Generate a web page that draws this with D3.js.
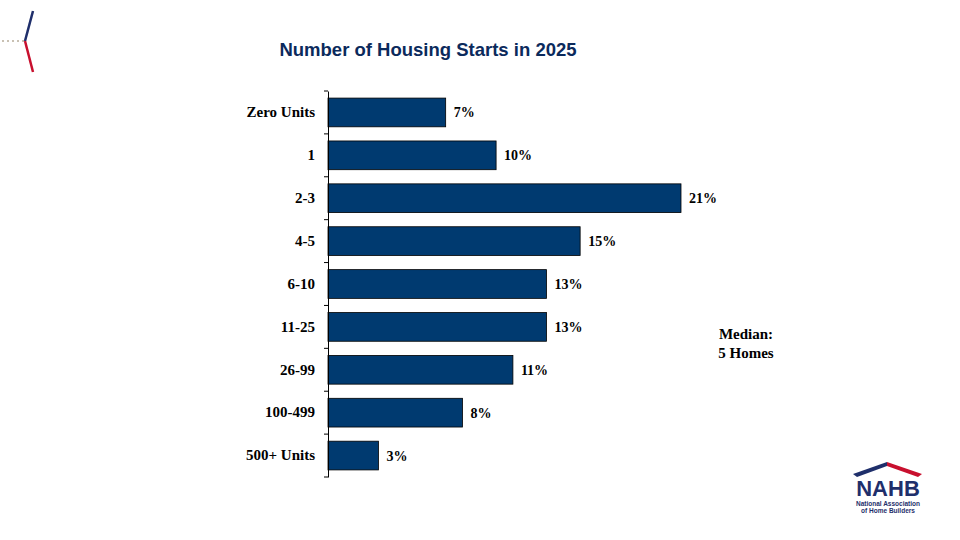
<!DOCTYPE html>
<html><head><meta charset="utf-8">
<script src="https://cdn.jsdelivr.net/npm/d3@7"></script>
<style>body{margin:0;background:#fff}</style></head>
<body><svg id="c" width="960" height="540"></svg>
<script>
const categories=["Zero Units","1","2-3","4-5","6-10","11-25","26-99","100-499","500+ Units"];
const values=[7,10,21,15,13,13,11,8,3];
const svg=d3.select("#c");
const navy="#003a70";
const x=d3.scaleLinear().domain([0,21]).range([328,681]);
const y=d3.scaleBand().domain(categories).range([91,477]).paddingInner(0.33).paddingOuter(0.165);
svg.append("text").attr("x",428).attr("y",56).attr("text-anchor","middle").attr("font-family","Arial, Liberation Sans, sans-serif").attr("font-size",18.5).attr("font-weight","bold").attr("fill","#0b2a5c").text("Number of Housing Starts in 2025");
svg.selectAll("rect.b").data(values).join("rect").attr("class","b")
 .attr("x",x(0)).attr("y",(d,i)=>y(categories[i])).attr("width",d=>x(d)-x(0)).attr("height",y.bandwidth())
 .attr("fill",navy).attr("stroke","#000").attr("stroke-width",0.8);
svg.selectAll("text.v").data(values).join("text").attr("class","v")
 .attr("x",d=>x(d)+8).attr("y",(d,i)=>y(categories[i])+y.bandwidth()/2+5)
 .attr("font-family","Liberation Serif, Times New Roman, serif").attr("font-size",14).attr("font-weight","bold").text(d=>d+"%");
const ax=svg.append("g").attr("transform","translate(328,0)").call(d3.axisLeft(y).tickSize(0).tickPadding(13));
ax.select(".domain").attr("stroke","#000");
ax.selectAll("text").attr("font-family","Liberation Serif, Times New Roman, serif").attr("font-size",15).attr("font-weight","bold").attr("fill","#000");
const bounds=categories.map(c=>y(c)-y.step()*y.paddingInner()/2).concat([477]);
svg.selectAll("line.t").data(bounds).join("line").attr("x1",324).attr("x2",328).attr("y1",d=>d).attr("y2",d=>d).attr("stroke","#000");
const m=svg.append("text").attr("font-family","Liberation Serif, Times New Roman, serif").attr("font-size",15).attr("font-weight","bold").attr("text-anchor","middle");
m.append("tspan").attr("x",746).attr("y",339).text("Median:");
m.append("tspan").attr("x",746).attr("y",358).text("5 Homes");
svg.append("line").attr("x1",2).attr("y1",41).attr("x2",24).attr("y2",41).attr("stroke","#b8ad9a").attr("stroke-width",1.5).attr("stroke-dasharray","2,3");
svg.append("line").attr("x1",25).attr("y1",41).attr("x2",33).attr("y2",11).attr("stroke","#1f2f6b").attr("stroke-width",2.5);
svg.append("line").attr("x1",25).attr("y1",41).attr("x2",33).attr("y2",72).attr("stroke","#c8102e").attr("stroke-width",2.5);
const g=svg.append("g");
g.append("path").attr("d","M853,474 L887,462 L887,466 L857,477 Z").attr("fill","#1f2f6b");
g.append("path").attr("d","M887,462 L922,474 L918,477 L887,466 Z").attr("fill","#c8102e");
g.append("text").attr("x",888).attr("y",496).attr("text-anchor","middle").attr("font-family","Arial, Liberation Sans, sans-serif").attr("font-size",22).attr("font-weight","900").attr("fill","#1f2f6b").text("NAHB");
g.append("text").attr("x",888).attr("y",506).attr("text-anchor","middle").attr("font-family","Arial, Liberation Sans, sans-serif").attr("font-size",6.5).attr("font-weight","bold").attr("fill","#1f2f6b").text("National Association");
g.append("text").attr("x",888).attr("y",513).attr("text-anchor","middle").attr("font-family","Arial, Liberation Sans, sans-serif").attr("font-size",6.5).attr("font-weight","bold").attr("fill","#1f2f6b").text("of Home Builders");
</script></body></html>
